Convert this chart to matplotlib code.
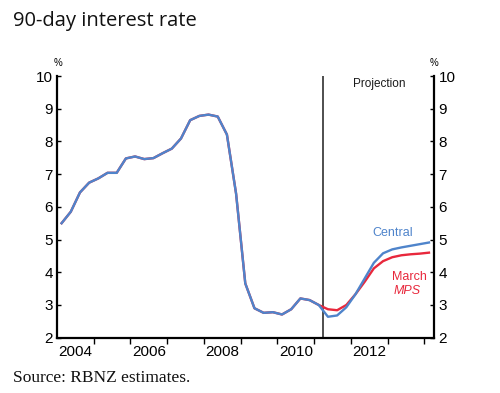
import matplotlib
matplotlib.use("Agg")
import matplotlib.pyplot as plt
import numpy as np

# Quarterly points, 2004 Q1 .. 2014 Q1 (plotted mid-quarter)
start_year = 2004.125
central = [5.50, 5.85, 6.44, 6.74, 6.87, 7.04, 7.04, 7.48, 7.54, 7.46,
           7.49, 7.64, 7.78, 8.09, 8.65, 8.78, 8.82, 8.76, 8.21, 6.40,
           3.66, 2.90, 2.76, 2.78, 2.71, 2.87, 3.20, 3.15, 3.00, 2.64,
           2.68, 2.93, 3.33, 3.81, 4.29, 4.58, 4.70, 4.76, 4.81, 4.86, 4.91]
march_mps = [5.50, 5.85, 6.44, 6.74, 6.87, 7.04, 7.04, 7.48, 7.54, 7.46,
             7.49, 7.64, 7.78, 8.09, 8.65, 8.78, 8.82, 8.76, 8.21, 6.40,
             3.66, 2.90, 2.76, 2.78, 2.71, 2.87, 3.20, 3.15, 3.00, 2.87,
             2.84, 3.00, 3.33, 3.71, 4.12, 4.34, 4.46, 4.52, 4.55, 4.57, 4.60]
x_dates = start_year + 0.25 * np.arange(len(central))
projection_start = 2011.25
year_labels = ["2004", "2006", "2008", "2010", "2012"]
y_ticks = [2, 3, 4, 5, 6, 7, 8, 9, 10]

blue = "#4f84cb"
red = "#e8283c"

plt.rcParams["font.family"] = ["Liberation Sans", "DejaVu Sans"]

fig = plt.figure(figsize=(5.0, 3.93), dpi=100)
ax = fig.add_axes([0.114, 0.1407, 0.7546, 0.6659])

ax.plot(x_dates, march_mps, color=red, lw=1.7, solid_joinstyle="round", zorder=2)
ax.plot(x_dates, central, color=blue, lw=1.7, solid_joinstyle="round", zorder=3)
ax.axvline(projection_start, color="#404040", lw=1.3, zorder=1)

ax.set_xlim(2004.0, 2014.27)
ax.set_ylim(2, 10)

for s in ["left", "right", "bottom"]:
    ax.spines[s].set_linewidth(1.6)
    ax.spines[s].set_color("black")
ax.spines["top"].set_visible(False)

# x: year-boundary ticks (outward, unlabeled) + labels at mid-year
ax.set_xticks(np.arange(2005, 2015))
ax.set_xticklabels([])
ax.tick_params(axis="x", which="major", direction="out", length=4, width=1)
ax.set_xticks([int(y) + 0.5 for y in year_labels], minor=True)
ax.set_xticklabels(year_labels, minor=True)
ax.tick_params(axis="x", which="minor", length=0, pad=5, labelsize=11)

ax.set_yticks(y_ticks)
ax.set_yticklabels([str(v) for v in y_ticks])
ax.tick_params(axis="y", direction="in", length=3, width=1, labelsize=11,
               left=True, right=True, labelleft=True, labelright=True, pad=3)

ax.text(2012.78, 9.76, "Projection", ha="center", va="center", fontsize=8.5, color="#1a1a1a")
ax.text(2013.15, 5.19, "Central", ha="center", va="center", fontsize=9, color=blue)
ax.text(2013.12, 3.86, "March", ha="left", va="center", fontsize=9, color=red)
ax.text(2013.15, 3.43, "MPS", ha="left", va="center", fontsize=9, color=red, style="italic")

fig.text(58.3 / 500, 1 - 62.5 / 393, "%", ha="center", va="center", fontsize=7)
fig.text(434.3 / 500, 1 - 63 / 393, "%", ha="center", va="center", fontsize=7)

fig.text(13 / 500, 1 - 21 / 393, "90-day interest rate", ha="left", va="center",
         fontsize=14.5, family=["Open Sans", "DejaVu Sans"], color="#111111")
fig.text(13 / 500, 1 - 378 / 393, "Source: RBNZ estimates.", ha="left", va="center",
         fontsize=12.5, family=["Liberation Serif", "DejaVu Serif"], color="#111111")

fig.savefig("out.png", dpi=100)
